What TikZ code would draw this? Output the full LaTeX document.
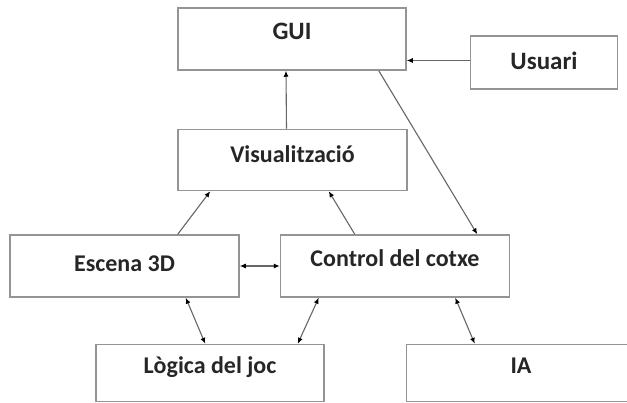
\documentclass[tikz,border=0pt]{standalone}
\usepackage{fontspec}
\setmainfont{Carlito}
\usepackage{tikz}
\usetikzlibrary{arrows.meta,positioning}

\begin{document}
\begin{tikzpicture}[
    x=1pt, y=-1pt,
    >={Latex[length=6pt,width=5pt,color=black]},
    box/.style={rectangle, draw=black!42, line width=1.5pt, minimum width=229pt, minimum height=62pt, align=center, text=black!85, font=\fontsize{24}{28}\selectfont\bfseries},
    large/.style={font=\fontsize{25}{30}\selectfont\bfseries},
    raised/.style={text height=16pt, text depth=14pt},
    arrow/.style={->, line width=1.1pt, draw=black!60}
]
\useasboundingbox (0,0) rectangle (627,403);
\node[box, large, raised, minimum width=228pt] (gui) at (292,39) {GUI};
\node[box, large, text depth=4pt, minimum width=147pt, minimum height=53pt, right=63pt of gui.north east, anchor=north west, yshift=-28pt] (usuari) {Usuari};
\node[box, raised, text depth=11pt, minimum height=61pt, below=58pt of gui.south west, anchor=north west] (vis) {Visualització};
\node[box, text depth=4pt, below left=43pt and 168pt of vis.south west, anchor=north west] (escena) {Escena 3D};
\node[box, raised, right=40pt of escena.east] (control) {Control del cotxe};
\node[box, raised, minimum width=228pt, minimum height=57pt, below right=46pt and 86pt of escena.south west, anchor=north west] (logica) {Lògica del joc};
\node[box, raised, minimum height=57pt, right=81pt of logica.east] (ia) {IA};

\draw[arrow] ([yshift=2pt]usuari.west) -- ([yshift=2pt]usuari.west -| gui.east);
\draw[arrow] ([xshift=-6pt]vis.north) -- ([xshift=-6pt]gui.south);
\draw[arrow] ([xshift=-28pt]gui.south east) -- ([xshift=-33pt]control.north east);
\draw[arrow] ([xshift=-62pt]escena.north east) -- ([xshift=33pt]vis.south west);
\draw[arrow] ([xshift=75pt]control.north west) -- ([xshift=-79pt]vis.south east);
\draw[arrow, <->] (escena) -- (control);
\draw[arrow, <->] ([xshift=-54pt]escena.south east) -- ([xshift=110pt]logica.north west);
\draw[arrow, <->] ([xshift=39pt]control.south west) -- ([xshift=-27pt]logica.north east);
\draw[arrow, <->] ([xshift=-55pt]control.south east) -- ([xshift=69pt]ia.north west);
\end{tikzpicture}
\end{document}
